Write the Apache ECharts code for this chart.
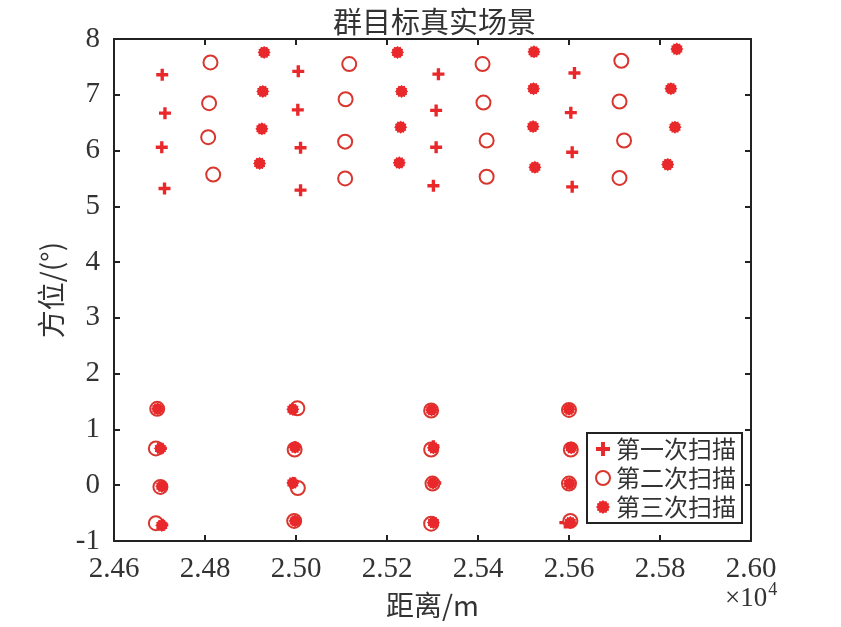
<!DOCTYPE html>
<html>
<head>
<meta charset="utf-8">
<script src="https://cdn.jsdelivr.net/npm/echarts@6/dist/echarts.min.js"></script>
<style>html,body{margin:0;padding:0;background:#fff}#c{width:841px;height:627px}</style>
</head>
<body>
<div id="c"></div>
<script>
// ---- data (distance in m, azimuth in degrees) ----
const seriesNames = ['第一次扫描', '第二次扫描', '第三次扫描'];
const scan1 = [
  [24706,7.36],[24712,6.67],[24705,6.06],[24711,5.32],
  [25005,7.42],[25004,6.73],[25010,6.05],[25010,5.29],
  [25313,7.37],[25308,6.72],[25308,6.06],[25302,5.37],
  [25612,7.39],[25604,6.68],[25607,5.97],[25607,5.35],
  [24695,1.36],[24703,0.66],[24704,-0.02],[24706,-0.71],
  [24996,1.36],[24998,0.68],[24995,0.04],[24997,-0.62],
  [25298,1.36],[25302,0.70],[25306,0.04],[25301,-0.67],
  [25601,1.36],[25606,0.66],[25602,0.04],[25592,-0.67]
];
const scan2 = [
  [24812,7.58],[24809,6.85],[24807,6.24],[24818,5.57],
  [25117,7.55],[25109,6.92],[25108,6.16],[25108,5.50],
  [25410,7.55],[25412,6.86],[25419,6.18],[25419,5.53],
  [25715,7.61],[25711,6.88],[25721,6.18],[25711,5.51],
  [24695,1.37],[24692,0.66],[24702,-0.03],[24692,-0.68],
  [25003,1.38],[24997,0.64],[25004,-0.05],[24996,-0.64],
  [25297,1.34],[25297,0.64],[25300,0.03],[25297,-0.69],
  [25600,1.35],[25604,0.64],[25600,0.03],[25603,-0.64]
];
const scan3 = [
  [24930,7.76],[24927,7.06],[24925,6.39],[24920,5.77],
  [25223,7.76],[25232,7.06],[25230,6.42],[25227,5.78],
  [25523,7.77],[25522,7.11],[25521,6.43],[25525,5.70],
  [25837,7.82],[25824,7.11],[25833,6.42],[25817,5.75],
  [24696,1.37],[24702,0.66],[24705,-0.02],[24705,-0.72],
  [24993,1.36],[24998,0.68],[24993,0.04],[24998,-0.64],
  [25298,1.35],[25302,0.67],[25301,0.04],[25302,-0.67],
  [25600,1.36],[25605,0.67],[25601,0.03],[25603,-0.67]
];
const xTickMin = 24600, xTickMax = 26000, xTickStep = 200;
const yTickMin = -1, yTickMax = 8, yTickStep = 1;

// ---- symbols ----
const plusPath = 'path://M3.6,0h2.8v3.6h3.6v2.8h-3.6v3.6h-2.8v-3.6h-3.6v-2.8h3.6z';
function starPath(n, rOut, rIn) {
  let d = 'path://';
  for (let i = 0; i < 2 * n; i++) {
    const r = i % 2 === 0 ? rOut : rIn;
    const a = Math.PI * i / n;
    const px = (10 + r * Math.sin(a)).toFixed(2), py = (10 - r * Math.cos(a)).toFixed(2);
    d += (i === 0 ? 'M' : 'L') + px + ',' + py;
  }
  return d + 'Z';
}
const asterPath = starPath(12, 10, 8.2);

const red = '#e8282b';
const serif = '"Liberation Serif","Noto Sans CJK SC",serif';
const cjk = '"Noto Sans CJK SC","Liberation Serif",sans-serif';

const chart = echarts.init(document.getElementById('c'), null, {renderer: 'canvas'});
const axisLine = {show: true, onZero: false, lineStyle: {color: '#222', width: 2}};
const tick = {show: true, inside: true, length: 6, lineStyle: {color: '#222', width: 2}};
chart.setOption({
  animation: false,
  backgroundColor: '#fff',
  title: {
    text: '群目标真实场景', left: 328, top: 2,
    textStyle: {fontFamily: cjk, fontSize: 29, fontWeight: 'normal', color: '#333'}
  },
  grid: {left: 114, right: 90, top: 39, bottom: 86, containLabel: false},
  legend: {
    orient: 'vertical', left: 587, top: 433,
    padding: [4, 6, 4, 8], itemGap: 5, itemWidth: 16, itemHeight: 14,
    backgroundColor: '#fff', borderColor: '#222', borderWidth: 2,
    textStyle: {fontFamily: cjk, fontSize: 24, color: '#333', padding: [0, 0, 0, 0]},
    data: seriesNames
  },
  xAxis: [{
    type: 'value', min: xTickMin, max: xTickMax, interval: xTickStep,
    position: 'bottom',
    name: '距离/m', nameLocation: 'middle', nameGap: 50,
    nameTextStyle: {fontFamily: cjk, fontSize: 28, color: '#333'},
    axisLine: axisLine, axisTick: tick,
    splitLine: {show: false},
    axisLabel: {fontFamily: serif, fontSize: 29, color: '#333', margin: 14,
      formatter: v => (v / 10000).toFixed(2)}
  }, {
    type: 'value', min: xTickMin, max: xTickMax, interval: xTickStep,
    position: 'top',
    axisLine: axisLine, axisTick: tick,
    splitLine: {show: false}, axisLabel: {show: false}
  }],
  yAxis: [{
    type: 'value', min: yTickMin, max: yTickMax, interval: yTickStep,
    position: 'left',
    name: '方位/(°)', nameLocation: 'middle', nameGap: 44, nameRotate: 90,
    nameTextStyle: {fontFamily: cjk, fontSize: 28, color: '#333'},
    axisLine: axisLine, axisTick: tick,
    splitLine: {show: false},
    axisLabel: {fontFamily: serif, fontSize: 29, color: '#333', margin: 14}
  }, {
    type: 'value', min: yTickMin, max: yTickMax, interval: yTickStep,
    position: 'right',
    axisLine: axisLine, axisTick: tick,
    splitLine: {show: false}, axisLabel: {show: false}
  }],
  graphic: [{
    type: 'text', left: 725, top: 581,
    style: {
      text: '{a|×10}{b|4}',
      rich: {
        a: {fontFamily: serif, fontSize: 27, fill: '#333', verticalAlign: 'bottom'},
        b: {fontFamily: serif, fontSize: 18, fill: '#333', verticalAlign: 'top', padding: [0, 0, 13, 1]}
      }
    }
  }],
  series: [{
    name: seriesNames[0], type: 'scatter', data: scan1,
    symbol: plusPath, symbolSize: 12,
    itemStyle: {color: red, opacity: 1}
  }, {
    name: seriesNames[1], type: 'scatter', data: scan2,
    symbol: 'emptyCircle', symbolSize: 14,
    itemStyle: {color: '#d8362e', borderColor: '#d8362e', borderWidth: 1.4, opacity: 1}
  }, {
    name: seriesNames[2], type: 'scatter', data: scan3,
    symbol: asterPath, symbolSize: 13,
    itemStyle: {color: red, opacity: 1}
  }]
});
</script>
</body>
</html>
